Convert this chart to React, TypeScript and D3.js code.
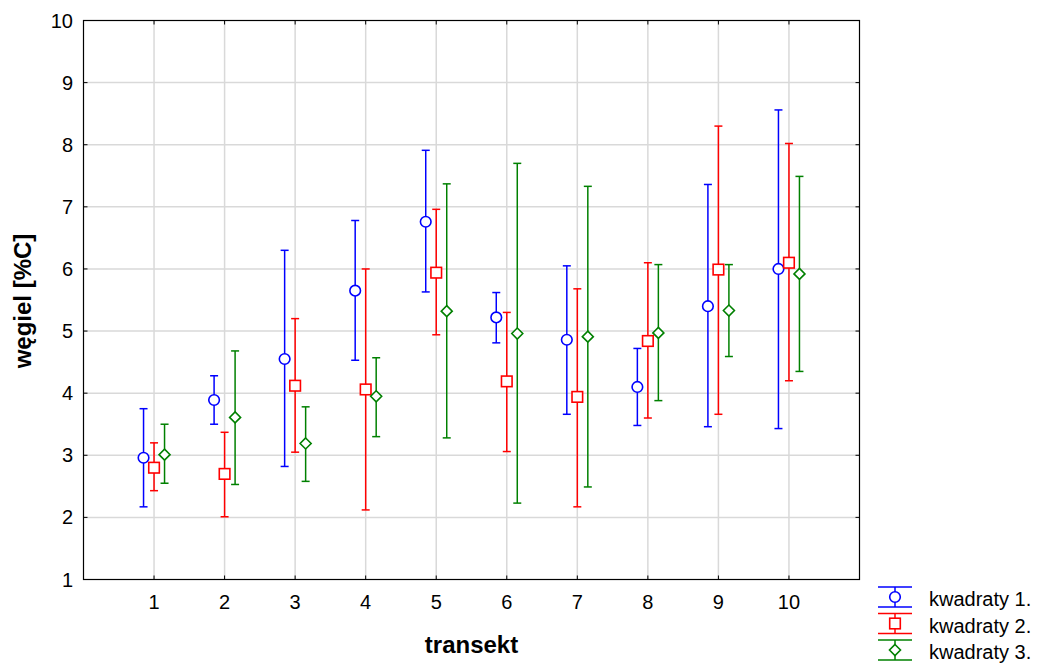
import React from "react";
import * as d3 from "d3";

const categories = [1, 2, 3, 4, 5, 6, 7, 8, 9, 10];
const seriesNames = ["kwadraty 1.", "kwadraty 2.", "kwadraty 3."];
const colors = ["#0000ff", "#ff0000", "#008000"];
const shapes = ["circle", "square", "diamond"];

const mean1 = [2.96, 3.89, 4.55, 5.65, 6.76, 5.22, 4.86, 4.1, 5.4, 6.0];
const upper1 = [3.75, 4.28, 6.3, 6.78, 7.91, 5.62, 6.05, 4.72, 7.36, 8.56];
const lower1 = [2.17, 3.5, 2.82, 4.53, 5.63, 4.81, 3.66, 3.48, 3.46, 3.43];

const mean2 = [2.8, 2.7, 4.12, 4.06, 5.94, 4.19, 3.94, 4.84, 5.99, 6.1];
const upper2 = [3.2, 3.37, 5.2, 6.0, 6.96, 5.3, 5.68, 6.1, 8.3, 8.02];
const lower2 = [2.43, 2.01, 3.05, 2.12, 4.94, 3.06, 2.17, 3.6, 3.66, 4.2];

const mean3 = [3.01, 3.61, 3.19, 3.95, 5.32, 4.96, 4.91, 4.97, 5.33, 5.92];
const upper3 = [3.5, 4.68, 3.78, 4.57, 7.37, 7.7, 7.33, 6.07, 6.07, 7.49];
const lower3 = [2.55, 2.53, 2.58, 3.3, 3.28, 2.23, 2.49, 3.88, 4.59, 4.35];

const yTicks = [1, 2, 3, 4, 5, 6, 7, 8, 9, 10];

const means = [mean1, mean2, mean3];
const uppers = [upper1, upper2, upper3];
const lowers = [lower1, lower2, lower3];

const W = 1039;
const H = 664;
const left = 83.5;
const right = 859.5;
const top = 20.5;
const bottom = 579.5;

const x = d3.scaleLinear().domain([0, 11]).range([left, right]);
const y = d3.scaleLinear().domain([1, 10]).range([bottom, top]);
const offsets = [-10.5, 0, 10.5];
const font = "'Liberation Sans', Arial, sans-serif";

function Marker({ shape, cx, cy, color }: { shape: string; cx: number; cy: number; color: string }) {
  if (shape === "circle")
    return <circle cx={cx} cy={cy} r={5.3} fill="white" stroke={color} strokeWidth={1.6} />;
  if (shape === "square")
    return <rect x={cx - 5.3} y={cy - 5.3} width={10.6} height={10.6} fill="white" stroke={color} strokeWidth={1.6} />;
  const r = 5.5;
  return (
    <path
      d={`M${cx},${cy - r}L${cx + r},${cy}L${cx},${cy + r}L${cx - r},${cy}Z`}
      fill="white"
      stroke={color}
      strokeWidth={1.6}
    />
  );
}

export default function App() {
  return (
    <svg width={W} height={H} style={{ position: "absolute", left: 0, top: 0, background: "white" }}>
      <rect x={0} y={0} width={W} height={H} fill="white" />
      {/* grid */}
      {yTicks.slice(1, -1).map((t) => (
        <line key={"gy" + t} x1={left} x2={right} y1={y(t)} y2={y(t)} stroke="#d9d9d9" strokeWidth={1.5} />
      ))}
      {categories.map((c) => (
        <line key={"gx" + c} x1={x(c)} x2={x(c)} y1={top} y2={bottom} stroke="#d9d9d9" strokeWidth={1.5} />
      ))}
      {/* frame */}
      <rect x={left} y={top} width={right - left} height={bottom - top} fill="none" stroke="black" strokeWidth={1.2} />
      {/* ticks */}
      {yTicks.map((t) => (
        <g key={"ty" + t}>
          <line x1={left} x2={left + 4} y1={y(t)} y2={y(t)} stroke="black" />
          <line x1={right} x2={right - 4} y1={y(t)} y2={y(t)} stroke="black" />
          <text x={left - 10.5} y={y(t)} dy="0.35em" textAnchor="end" fontFamily={font} fontSize={20} fill="black">
            {t}
          </text>
        </g>
      ))}
      {categories.map((c) => (
        <g key={"tx" + c}>
          <line x1={x(c)} x2={x(c)} y1={bottom} y2={bottom - 4} stroke="black" />
          <line x1={x(c)} x2={x(c)} y1={top} y2={top + 4} stroke="black" />
          <text x={x(c)} y={609} textAnchor="middle" fontFamily={font} fontSize={20} fill="black">
            {c}
          </text>
        </g>
      ))}
      {/* data */}
      {means.map((m, s) => (
        <g key={"s" + s}>
          {categories.map((c, i) => {
            const cx = x(c) + offsets[s];
            const yu = y(uppers[s][i]);
            const yl = y(lowers[s][i]);
            const col = colors[s];
            return (
              <g key={i}>
                <line x1={cx} x2={cx} y1={yu} y2={yl} stroke={col} strokeWidth={1.5} />
                <line x1={cx - 4} x2={cx + 4} y1={yu} y2={yu} stroke={col} strokeWidth={1.5} />
                <line x1={cx - 4} x2={cx + 4} y1={yl} y2={yl} stroke={col} strokeWidth={1.5} />
                <Marker shape={shapes[s]} cx={cx} cy={y(m[i])} color={col} />
              </g>
            );
          })}
        </g>
      ))}
      {/* axis titles */}
      <text
        transform={`translate(31,${(top + bottom) / 2 + 1}) rotate(-90)`}
        textAnchor="middle"
        fontFamily={font}
        fontSize={24}
        fontWeight="bold"
        fill="black"
      >
        węgiel [%C]
      </text>
      <text x={471.5} y={653} textAnchor="middle" fontFamily={font} fontSize={24} fontWeight="bold" fill="black">
        transekt
      </text>
      {/* legend */}
      {seriesNames.map((n, s) => {
        const cy = 597 + s * 26.5;
        const cx = 895;
        const col = colors[s];
        return (
          <g key={"lg" + s}>
            <line x1={cx} x2={cx} y1={cy - 10} y2={cy + 10} stroke={col} strokeWidth={1.5} />
            <line x1={cx - 17} x2={cx + 17} y1={cy - 10} y2={cy - 10} stroke={col} strokeWidth={1.5} />
            <line x1={cx - 17} x2={cx + 17} y1={cy + 10} y2={cy + 10} stroke={col} strokeWidth={1.5} />
            <Marker shape={shapes[s]} cx={cx} cy={cy} color={col} />
            <text x={929} y={cy + 9} fontFamily={font} fontSize={20} fill="black">
              {n}
            </text>
          </g>
        );
      })}
    </svg>
  );
}
